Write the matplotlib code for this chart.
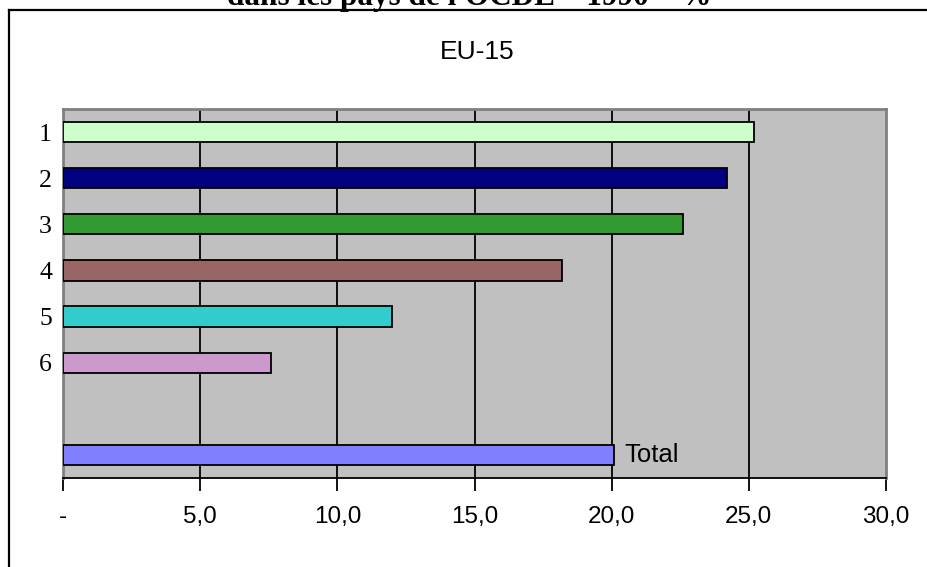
#Diagramme en barres horizontales : parts par groupe pour l'UE-15, avec le total en bas
import numpy as np
import matplotlib.pyplot as plt
from matplotlib.lines import Line2D

#Les données
etiquettes = ['1', '2', '3', '4', '5', '6']
valeurs = [25.2, 24.2, 22.6, 18.2, 12.0, 7.6]
total = 20.1
couleurs = ['#CCFFCC', '#000080', '#339933', '#996666', '#33CCCC', '#CC99CC']
couleur_total = '#8080FF'
graduations = [0, 5, 10, 15, 20, 25, 30]
etiquettes_x = ['-', '5,0', '10,0', '15,0', '20,0', '25,0', '30,0']

fig = plt.figure(figsize=(9.27, 5.67), dpi=100)
ax = fig.add_axes([63/927, 1-478/567, (886-63)/927, (478-109)/567])

#Positions : 6 groupes, une case vide, puis le total
positions = np.arange(len(etiquettes))
pos_total = len(etiquettes) + 1
largeur = 0.44

ax.barh(positions, valeurs, largeur, color=couleurs, edgecolor='black', linewidth=1.3, zorder=3)
ax.barh(pos_total, total, largeur, color=couleur_total, edgecolor='black', linewidth=1.3, zorder=3)
ax.text(total + 0.35, pos_total, 'Total', ha='left', va='center',
        fontsize=18.5, family='Liberation Sans', zorder=4)

ax.set_xlim(0, 30)
ax.set_ylim(pos_total + 0.5, -0.5)
ax.set_facecolor('#C0C0C0')

#Quadrillage vertical noir
for g in graduations[1:-1]:
    ax.axvline(g, color='black', linewidth=1.3, zorder=1)

ax.set_yticks(positions)
ax.set_yticklabels(etiquettes, family='Liberation Serif', fontsize=18.5)
ax.tick_params(axis='y', length=0, pad=8)

ax.set_xticks(graduations)
ax.set_xticklabels(etiquettes_x, family='Liberation Sans', fontsize=17.5)
ax.tick_params(axis='x', length=9, width=1.3, direction='out', pad=11)

#Bordures de la zone de tracé
for cote in ['left', 'top', 'right']:
    ax.spines[cote].set_color('#808080')
    ax.spines[cote].set_linewidth(2)
ax.spines['bottom'].set_color('black')
ax.spines['bottom'].set_linewidth(1.3)

#Titres
fig.text(477/927, 1-52/567, 'EU-15', ha='center', va='center', fontsize=19, family='Liberation Sans')
fig.text(469/927, 1-5/567, "dans les pays de l'OCDE \u2013 1990 \u2013 %", ha='center', va='baseline',
         fontsize=22.5, fontweight='bold', family='Liberation Serif')

#Cadre du graphique (coupé à droite et en bas)
fig.add_artist(Line2D([9/927, 9/927], [0, 1-10/567], color='black', linewidth=1.6, transform=fig.transFigure))
fig.add_artist(Line2D([9/927, 1], [1-10/567, 1-10/567], color='black', linewidth=1.6, transform=fig.transFigure))

fig.savefig('out.png', dpi=100)
